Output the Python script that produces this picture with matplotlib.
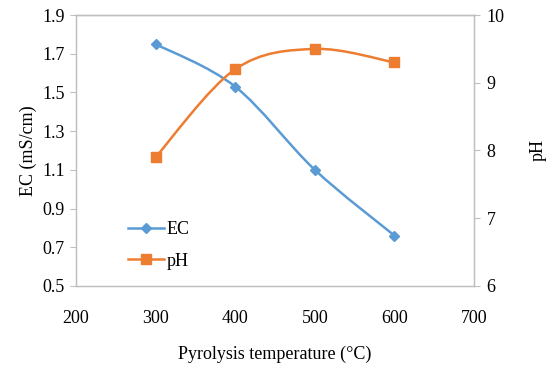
import numpy as np
import matplotlib.pyplot as plt
from matplotlib.path import Path
from matplotlib.patches import PathPatch
from matplotlib.lines import Line2D

# data
temperature = [300, 400, 500, 600]
ec_values   = [1.75, 1.53, 1.10, 0.76]
ph_values   = [7.9, 9.2, 9.5, 9.3]

blue   = '#5B9BD5'
orange = '#ED7D31'
grey   = '#BFBFBF'

plt.rcParams['font.family'] = ['Liberation Serif', 'DejaVu Serif']
fontsize = 13


def smoothPath(x, y):
    # Excel-like smoothed line: cubic bezier segments through the points
    pts = np.column_stack([x, y]).astype(float)
    n = len(pts)
    verts = [pts[0]]
    codes = [Path.MOVETO]
    for i in range(n - 1):
        p0 = pts[i - 1] if i > 0 else pts[i]
        p1 = pts[i]
        p2 = pts[i + 1]
        p3 = pts[i + 2] if i + 2 < n else pts[i + 1]
        c1 = p1 + (p2 - p0) / 6.0
        c2 = p2 - (p3 - p1) / 6.0
        verts += [c1, c2, p2]
        codes += [Path.CURVE4] * 3
    return Path(verts, codes)


fig = plt.figure(figsize=(5.5, 3.67), dpi=100)
ax = fig.add_axes([0.138, 0.221, 0.724, 0.738])
ax2 = ax.twinx()

ax.add_patch(PathPatch(smoothPath(temperature, ec_values), facecolor='none',
                       edgecolor=blue, linewidth=1.8, zorder=3))
ax.plot(temperature, ec_values, linestyle='none', marker='D', markersize=5,
        color=blue, zorder=4)

ax2.add_patch(PathPatch(smoothPath(temperature, ph_values), facecolor='none',
                        edgecolor=orange, linewidth=1.8, zorder=3))
ax2.plot(temperature, ph_values, linestyle='none', marker='s', markersize=6.5,
         color=orange, zorder=4)

ax.set_xlim(200, 700)
ax.set_ylim(0.5, 1.9)
ax2.set_ylim(6, 10)
ax.set_xticks(np.arange(200, 701, 100))
ax.set_yticks(np.arange(0.5, 1.91, 0.2))
ax.set_yticklabels(['{0:.1f}'.format(v) for v in np.arange(0.5, 1.91, 0.2)])
ax2.set_yticks([6, 7, 8, 9, 10])

for a in (ax, ax2):
    for s in a.spines.values():
        s.set_color(grey)
        s.set_linewidth(0.9)
ax.spines['top'].set_color('#808080')

ax.tick_params(axis='x', length=0, labelsize=fontsize, pad=17, colors='black')
ax.tick_params(axis='y', length=4, color=grey, labelsize=fontsize, pad=4)
ax2.tick_params(axis='y', length=4, color=grey, labelsize=fontsize, pad=5)

ax.set_xlabel('Pyrolysis temperature (°C)', fontsize=fontsize, labelpad=14)
ax.set_ylabel('EC (mS/cm)', fontsize=fontsize, labelpad=4)
ax2.set_ylabel('pH', fontsize=fontsize, labelpad=18)

handles = [Line2D([], [], color=blue, marker='D', markersize=5, linewidth=1.8),
           Line2D([], [], color=orange, marker='s', markersize=6.5, linewidth=1.8)]
ax.legend(handles, ['EC', 'pH'], loc='lower left', bbox_to_anchor=(0.09, 0.0),
          frameon=False, fontsize=fontsize, handlelength=2.0, handletextpad=0.15,
          labelspacing=0.8)

fig.savefig('out.png', dpi=100)
